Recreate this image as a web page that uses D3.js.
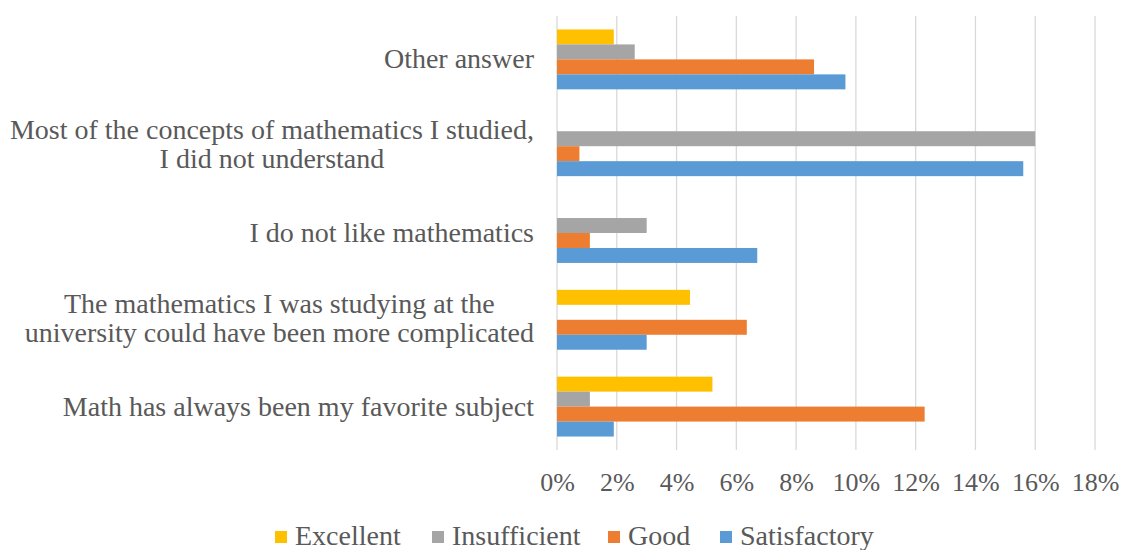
<!DOCTYPE html>
<html>
<head>
<meta charset="utf-8">
<script src="https://cdn.jsdelivr.net/npm/d3@7"></script>
</head>
<body style="margin:0; background:#fff">
<svg id="chart" width="1128" height="550"></svg>
<script>
const width = 1128
const height = 550
const font = "Liberation Serif"

// categories, top to bottom
var categories = [
    "Other answer",
    "Most of the concepts of mathematics I studied,|I did not understand",
    "I do not like mathematics",
    "The mathematics I was studying at the|university could have been more complicated",
    "Math has always been my favorite subject"
]
var seriesNames = ["Excellent", "Insufficient", "Good", "Satisfactory"]
var seriesColors = ["#FFC000", "#A5A5A5", "#ED7D31", "#5B9BD5"]

// values in %, one array per series, same order as categories
var excellent = [1.9, 0, 0, 4.45, 5.2]
var insufficient = [2.6, 16.0, 3.0, 0, 1.1]
var good = [8.6, 0.75, 1.1, 6.35, 12.3]
var satisfactory = [9.65, 15.6, 6.7, 3.0, 1.9]

var xTicks = [0, 2, 4, 6, 8, 10, 12, 14, 16, 18]

var svg = d3.select("#chart")

var x = d3.scaleLinear()
    .domain([0, 18])
    .range([557, 1095])

var y = d3.scaleBand()
    .domain(categories)
    .range([16, 450])
    .paddingInner(0.31)
    .paddingOuter(0.155)

var ySub = d3.scaleBand()
    .domain(seriesNames)
    .range([0, y.bandwidth()])

// gridlines
svg.append("g")
    .selectAll("line")
    .data(xTicks)
    .enter()
    .append("line")
    .attr("x1", d => x(d))
    .attr("x2", d => x(d))
    .attr("y1", 16)
    .attr("y2", 450)
    .attr("stroke", "#D9D9D9")
    .attr("stroke-width", 1.3)

// x axis labels
var xAxis = d3.axisBottom(x)
    .tickValues(xTicks)
    .tickFormat(d => d + "%")
    .tickSize(0)
    .tickPadding(0)

var gx = svg.append("g")
    .attr("transform", "translate(0,491)")
    .attr("font-family", font)
    .call(xAxis)
gx.select(".domain").remove()
gx.selectAll("text")
    .attr("dy", 0)
    .attr("y", 0)
    .attr("font-family", font)
    .attr("font-size", 26)
    .attr("fill", "#595959")

// bars
var values = [excellent, insufficient, good, satisfactory]
var rows = []
categories.forEach((c, i) => {
    seriesNames.forEach((s, j) => {
        rows.push({cat: c, series: s, value: values[j][i], color: seriesColors[j]})
    })
})

svg.append("g")
    .selectAll("rect")
    .data(rows)
    .enter()
    .append("rect")
    .attr("x", x(0))
    .attr("y", d => y(d.cat) + ySub(d.series))
    .attr("width", d => x(d.value) - x(0))
    .attr("height", ySub.bandwidth())
    .attr("fill", d => d.color)

// category labels
var labelRight = 534
var yLabels = svg.append("g")
    .selectAll("text")
    .data(categories)
    .enter()
    .append("text")
    .attr("font-family", font)
    .attr("font-size", 28)
    .attr("fill", "#595959")

yLabels.each(function(d) {
    var lines = d.split("|")
    var t = d3.select(this)
    var cy = y(d) + y.bandwidth() / 2
    if (lines.length == 1) {
        t.attr("text-anchor", "end")
            .attr("x", labelRight)
            .attr("y", cy + 9)
            .text(lines[0])
    } else {
        // lines centred on each other, block right aligned
        t.attr("text-anchor", "middle")
        lines.forEach((l, k) => {
            t.append("tspan")
                .attr("y", cy - 7 + k * 29)
                .text(l)
        })
        var w = d3.max(t.selectAll("tspan").nodes(), n => n.getComputedTextLength())
        t.selectAll("tspan").attr("x", labelRight - w / 2)
    }
})

// legend
var legendX = [275, 432, 608, 720]
var legend = svg.append("g")
    .selectAll("g")
    .data(seriesNames)
    .enter()
    .append("g")
    .attr("transform", (d, i) => "translate(" + legendX[i] + ",531)")

legend.append("rect")
    .attr("width", 12)
    .attr("height", 12)
    .attr("fill", (d, i) => seriesColors[i])

legend.append("text")
    .attr("x", 20)
    .attr("y", 14)
    .attr("font-family", font)
    .attr("font-size", 28)
    .attr("fill", "#595959")
    .text(d => d)
</script>
</body>
</html>
